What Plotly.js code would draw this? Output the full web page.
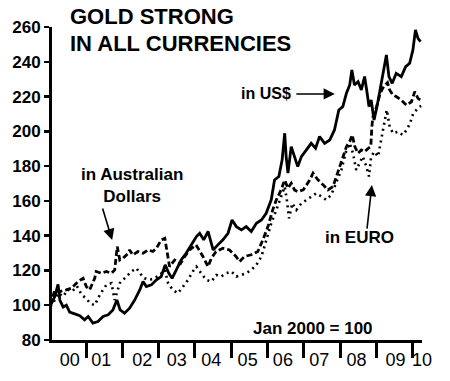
<!DOCTYPE html>
<html>
<head>
<meta charset="utf-8">
<script src="https://cdn.plot.ly/plotly-3.0.1.min.js"></script>
<style>html,body{margin:0;padding:0;background:#fff;}#chart{width:450px;height:381px;}</style>
</head>
<body>
<div id="chart"></div>
<script>
// ---- Data (index, Jan 2000 = 100), x = decimal year ----
const usdX = [2000.00,2000.05,2000.14,2000.23,2000.28,2000.37,2000.46,2000.55,2000.69,2000.83,2000.96,2001.06,2001.19,2001.33,2001.47,2001.61,2001.74,2001.85,2001.94,2002.06,2002.20,2002.34,2002.48,2002.57,2002.66,2002.80,2002.94,2003.07,2003.18,2003.28,2003.37,2003.49,2003.62,2003.76,2003.90,2004.04,2004.13,2004.24,2004.36,2004.50,2004.63,2004.77,2004.91,2005.02,2005.14,2005.28,2005.41,2005.55,2005.69,2005.83,2005.96,2006.10,2006.19,2006.31,2006.40,2006.47,2006.51,2006.56,2006.65,2006.74,2006.83,2006.93,2007.06,2007.20,2007.32,2007.43,2007.57,2007.71,2007.84,2007.96,2008.07,2008.17,2008.26,2008.32,2008.39,2008.49,2008.58,2008.67,2008.74,2008.79,2008.85,2008.93,2009.01,2009.08,2009.17,2009.27,2009.34,2009.43,2009.54,2009.68,2009.80,2009.91,2010.00,2010.07,2010.14,2010.21];
const usdY = [100,101,105,112,103,99,100,96,95,94,91.6,93.5,89.7,90.6,93.5,94.5,97.3,103,97.3,95.4,98.3,103,108.8,113.6,110.7,111.7,114.6,116.5,123.2,118.4,115.5,120.3,126,130,134.7,139.5,141.4,137.6,142.4,131.8,134.7,137.6,141.4,149,145.2,143.3,145.2,142.4,147.1,149,152.9,160.6,172,174,183.6,198.9,185.5,176,191.2,185.5,179.7,185.5,189.3,193.1,190.3,197,193.1,195,200.8,212.3,214.2,221.9,226.7,235.3,226.7,228.6,223.8,231.5,221.9,214.2,218,206.5,214.2,221.9,233.4,243.9,231.5,227.6,233.4,231.5,237.2,239.1,246.8,258.3,253.5,251.6];

const audX = [2000.00,2000.05,2000.14,2000.28,2000.46,2000.60,2000.78,2000.92,2001.01,2001.10,2001.24,2001.28,2001.42,2001.56,2001.70,2001.79,2001.86,2001.93,2002.02,2002.16,2002.20,2002.29,2002.43,2002.57,2002.71,2002.84,2002.94,2003.07,2003.17,2003.23,2003.30,2003.44,2003.60,2003.72,2003.85,2004.03,2004.22,2004.36,2004.45,2004.58,2004.77,2004.95,2005.13,2005.23,2005.36,2005.55,2005.73,2005.87,2006.01,2006.14,2006.24,2006.37,2006.47,2006.56,2006.65,2006.74,2006.83,2006.98,2007.16,2007.25,2007.39,2007.53,2007.66,2007.80,2007.89,2007.99,2008.08,2008.17,2008.26,2008.33,2008.40,2008.49,2008.58,2008.67,2008.77,2008.84,2008.87,2008.90,2009.00,2009.10,2009.20,2009.30,2009.36,2009.45,2009.55,2009.68,2009.82,2009.96,2010.05,2010.14,2010.21];
const audY = [100,102,108.8,107.9,108.8,109.8,113.6,115.5,110.7,108.8,115.5,119.4,118.4,119.4,118.4,120.3,133.7,126,127,129.9,131.8,128.9,130.9,129.9,131.8,130.9,132.8,137.5,138.5,130.9,122.2,126,124,128,131.8,134.7,128,122.2,127,130.9,132.8,131.8,128,125.1,128,129,130.9,137.6,145.2,154.8,160.6,166.3,172,167.3,170.1,166.3,165.3,166.3,172,175.9,172,169.2,166.3,168.2,174,179.7,185.4,191.2,194.1,197.9,191.2,187.4,189.3,188.3,190.2,191.2,202.7,208.4,214.2,222,226,228,223.8,220.9,219.9,218,215.1,217,222.8,219,218];

const eurX = [2000.00,2000.05,2000.14,2000.23,2000.37,2000.50,2000.62,2000.75,2000.88,2001.00,2001.12,2001.24,2001.38,2001.56,2001.70,2001.79,2001.93,2002.11,2002.25,2002.39,2002.48,2002.61,2002.75,2002.89,2003.03,2003.17,2003.26,2003.39,2003.53,2003.67,2003.81,2003.94,2004.04,2004.17,2004.31,2004.45,2004.59,2004.72,2004.86,2005.00,2005.14,2005.28,2005.41,2005.55,2005.69,2005.83,2005.96,2006.10,2006.24,2006.38,2006.47,2006.53,2006.59,2006.68,2006.79,2006.93,2007.06,2007.20,2007.34,2007.48,2007.61,2007.75,2007.89,2008.03,2008.17,2008.26,2008.35,2008.44,2008.53,2008.62,2008.72,2008.79,2008.85,2008.94,2009.04,2009.13,2009.22,2009.28,2009.36,2009.45,2009.59,2009.72,2009.83,2009.92,2010.01,2010.09,2010.18,2010.23];
const eurY = [100,100,103,107,105,109,108,111,106,104,101,100,106,111.7,112.7,103,112.7,116.5,119.4,121.3,118.4,115.5,114.6,115.5,117.4,120.3,112.7,108.8,106.9,110.7,114.6,119.4,122.2,118.4,114.6,113.6,117.4,116.5,118.4,119.4,116.5,117.4,118.4,120.3,123.2,128,137.6,147.1,154.8,162.5,168.2,160.6,150,158.6,154.8,158.6,160.6,162.5,164.4,162.5,160.6,163.4,171.1,177.8,189.3,193.1,187.4,177.8,181.6,185.5,179.7,174,185.5,188.3,185.5,195,206.5,212.3,202.7,198.9,199.8,197.9,200.8,204.6,210.4,212.3,214.2,214.6];

const yearTicks = [2001,2002,2003,2004,2005,2006,2007,2008,2009,2010];
const yearLabelPos = [2000.55,2001.42,2002.55,2003.5,2004.45,2005.45,2006.42,2007.42,2008.45,2009.52,2010.25];
const yearLabels = ['00','01','02','03','04','05','06','07','08','09','10'];
const yTicks = [80,100,120,140,160,180,200,220,240,260];

const FONT = 'Liberation Sans, Arial, sans-serif';
const XR = [2000.064, 2010.25];

const traces = [
  {x: usdX, y: usdY, mode:'lines', line:{color:'#000', width:2.8}, name:'US$'},
  {x: audX, y: audY, mode:'lines', line:{color:'#000', width:2.8, dash:'6px,3px'}, name:'AUD'},
  {x: eurX, y: eurY, mode:'lines', line:{color:'#000', width:2.6, dash:'2px,4px'}, name:'EURO'},
  {x: [XR[0]], y: [null], xaxis:'x2', mode:'lines', showlegend:false, hoverinfo:'skip'}
];

const layout = {
  width:450, height:381,
  margin:{l:52, r:28, t:27, b:41},
  paper_bgcolor:'#fff', plot_bgcolor:'#fff',
  showlegend:false,
  font:{family:FONT, color:'#000'},
  xaxis:{range:XR, showgrid:false, zeroline:false, showline:true, linewidth:3, linecolor:'#000',
         tickmode:'array', tickvals:yearTicks, ticks:'outside', ticklen:15, tickwidth:3, tickcolor:'#000',
         showticklabels:false},
  xaxis2:{range:XR, overlaying:'x', anchor:'y', side:'bottom', showgrid:false, zeroline:false, showline:false,
          tickmode:'array', tickvals:yearLabelPos, ticktext:yearLabels, ticks:'', ticklen:0,
          ticklabelstandoff:7, tickfont:{family:FONT, size:18, color:'#000'}},
  yaxis:{range:[80,260], showgrid:false, zeroline:false, showline:true, linewidth:3, linecolor:'#000',
         tickmode:'array', tickvals:yTicks, ticks:'outside', ticklen:5, tickwidth:2.5, tickcolor:'#000',
         tickfont:{family:FONT, size:17, color:'#000', weight:'bold'}},
  annotations:[
    {xref:'paper', yref:'paper', x:0.043, y:1.035, xanchor:'left', yanchor:'middle', showarrow:false,
     text:'<b>GOLD STRONG</b>', font:{family:FONT, size:22, color:'#000'}},
    {xref:'paper', yref:'paper', x:0.043, y:0.947, xanchor:'left', yanchor:'middle', showarrow:false,
     text:'<b>IN ALL CURRENCIES</b>', font:{family:FONT, size:22, color:'#000'}},
    {x:2005.95, y:221.5, showarrow:false, text:'<b>in US$</b>', font:{family:FONT, size:16, color:'#000'}},
    {x:2007.85, y:221.5, ax:-40, ay:0, text:'', showarrow:true, arrowhead:2, arrowsize:1.4, arrowwidth:1.6, arrowcolor:'#000'},
    {x:2002.27, y:168.6, showarrow:false, text:'<b>in Australian<br>Dollars</b>', font:{family:FONT, size:17, color:'#000'}},
    {x:2001.72, y:137.5, ax:-10, ay:-33, text:'', showarrow:true, arrowhead:2, arrowsize:1.4, arrowwidth:1.6, arrowcolor:'#000'},
    {x:2008.54, y:139.2, showarrow:false, text:'<b>in EURO</b>', font:{family:FONT, size:17, color:'#000'}},
    {x:2008.87, y:169.1, ax:-5, ay:45, text:'', showarrow:true, arrowhead:2, arrowsize:1.4, arrowwidth:1.6, arrowcolor:'#000'},
    {x:2007.25, y:86.9, showarrow:false, text:'<b>Jan 2000 = 100</b>', font:{family:FONT, size:17, color:'#000'}}
  ]
};

Plotly.newPlot('chart', traces, layout, {displayModeBar:false, staticPlot:true});
</script>
</body>
</html>
